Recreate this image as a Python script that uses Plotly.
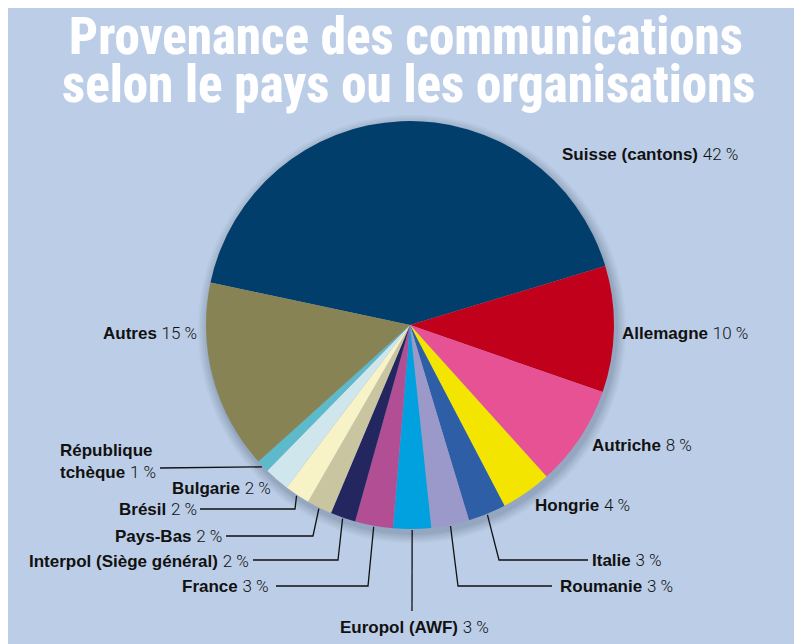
import math
import plotly.graph_objects as go

W, H = 802, 644
OFF = 8  # page margin seen in the reference

# ---------------- data ----------------
labels = ["Suisse (cantons)", "Allemagne", "Autriche", "Hongrie", "Italie",
          "Roumanie", "Europol (AWF)", "France", "Interpol (Siège général)",
          "Pays-Bas", "Brésil", "Bulgarie", "République tchèque", "Autres"]
values = [42, 10, 8, 4, 3, 3, 3, 3, 2, 2, 2, 2, 1, 15]
colors = ["#013e6c", "#c1001b", "#e65294", "#f4e500", "#2e5fa6",
          "#9b99c9", "#00a1de", "#b24f94", "#24265f", "#c9c5a1",
          "#f8f3c6", "#d0e6ed", "#5cbaca", "#888354"]
title_lines = ["Provenance des communications",
               "selon le pays ou les organisations"]

# ---------------- layout constants (screen pixels) ----------------
CX, CY, R = 410, 325, 204
ROT = -78
BG = "#bccee7"


def px(x, y):
    return (x - OFF) / W, 1 - (y - OFF) / H


label_layout = {
    "Suisse (cantons)": ((560, 154), "left", None),
    "Allemagne": ((620, 333), "left", None),
    "Autriche": ((590, 445), "left", None),
    "Hongrie": ((533, 505), "left", None),
    "Italie": ((590, 560), "left", [(499, 560), (588, 560)]),
    "Roumanie": ((558, 586), "left", [(458, 586), (552, 586)]),
    "Europol (AWF)": ((414, 627), "center", [(412, 611)]),
    "France": ((271, 586), "right", [(368, 586), (276, 586)]),
    "Interpol (Siège général)": ((251, 561), "right", [(338, 560), (253, 560)]),
    "Pays-Bas": ((224, 536), "right", [(313, 536), (226, 536)]),
    "Brésil": ((199, 509), "right", [(295, 509), (200, 509)]),
    "Bulgarie": ((273, 488), "right", None),
    "République tchèque": ((58, 461), "left", [(160, 468)]),
    "Autres": ((199, 333), "right", None),
}

fig = go.Figure()
fig.add_trace(go.Pie(
    labels=labels, values=values, sort=False, direction="clockwise",
    rotation=ROT, textinfo="none", hoverinfo="label+percent",
    marker=dict(colors=colors, line=dict(width=0)),
    domain=dict(x=[px(CX - R, 0)[0], px(CX + R, 0)[0]],
                y=[px(0, CY + R)[1], px(0, CY - R)[1]]),
    showlegend=False,
))

shapes = []
for i, op in enumerate([0.04, 0.05, 0.05, 0.06, 0.08]):
    rr = R + 10 - 2 * i
    ox, oy = 2, 4
    x0, y0 = px(CX + ox - rr, CY + oy - rr)
    x1, y1 = px(CX + ox + rr, CY + oy + rr)
    shapes.append(dict(type="circle", xref="paper", yref="paper",
                       x0=x0, x1=x1, y0=y1, y1=y0,
                       fillcolor=f"rgba(40,55,85,{op})", line=dict(width=0),
                       layer="below"))

annotations = []
total = sum(values)
cum = 0
for lab, v in zip(labels, values):
    mid = ROT + (cum + v / 2) / total * 360
    cum += v
    (lx, ly), xa, path = label_layout[lab]
    pct = f"{round(v / total * 100)} %"
    pct_html = f"<span style='font-family:Roboto;font-weight:300;fill:#111111'>{pct}</span>"
    if lab == "République tchèque":
        text = f"<b>République</b><br><b>tchèque</b> {pct_html}"
    else:
        text = f"<b>{lab}</b> {pct_html}"
    x, y = px(lx, ly)
    annotations.append(dict(x=x, y=y, xref="paper", yref="paper", text=text,
                            showarrow=False, xanchor=xa, yanchor="middle",
                            align="left",
                            font=dict(family="Liberation Sans", size=17,
                                      color="#111111")))
    if path:
        a = math.radians(mid)
        ex, ey = CX + (R + 1) * math.sin(a), CY - (R + 1) * math.cos(a)
        pts = [(ex, ey)] + path
        d = "M " + " L ".join(f"{px(p[0], p[1])[0]:.5f},{px(p[0], p[1])[1]:.5f}" for p in pts)
        shapes.append(dict(type="path", xref="paper", yref="paper", path=d,
                           line=dict(color="#111111", width=1.3)))

for t, cx, cy in zip(title_lines, [406, 408], [37, 85]):
    x, y = px(cx, cy)
    annotations.append(dict(x=x, y=y, xref="paper", yref="paper",
                            text=f"<span style='font-stretch:75%;font-weight:800'>{t}</span>",
                            showarrow=False,
                            xanchor="center", yanchor="middle",
                            font=dict(family="Roboto", size=51,
                                      color="white")))

fig.update_layout(
    width=W, height=H, margin=dict(l=0, r=0, t=0, b=0),
    paper_bgcolor=BG, plot_bgcolor=BG,
    shapes=shapes, annotations=annotations,
)

fig.write_html("out.html")
